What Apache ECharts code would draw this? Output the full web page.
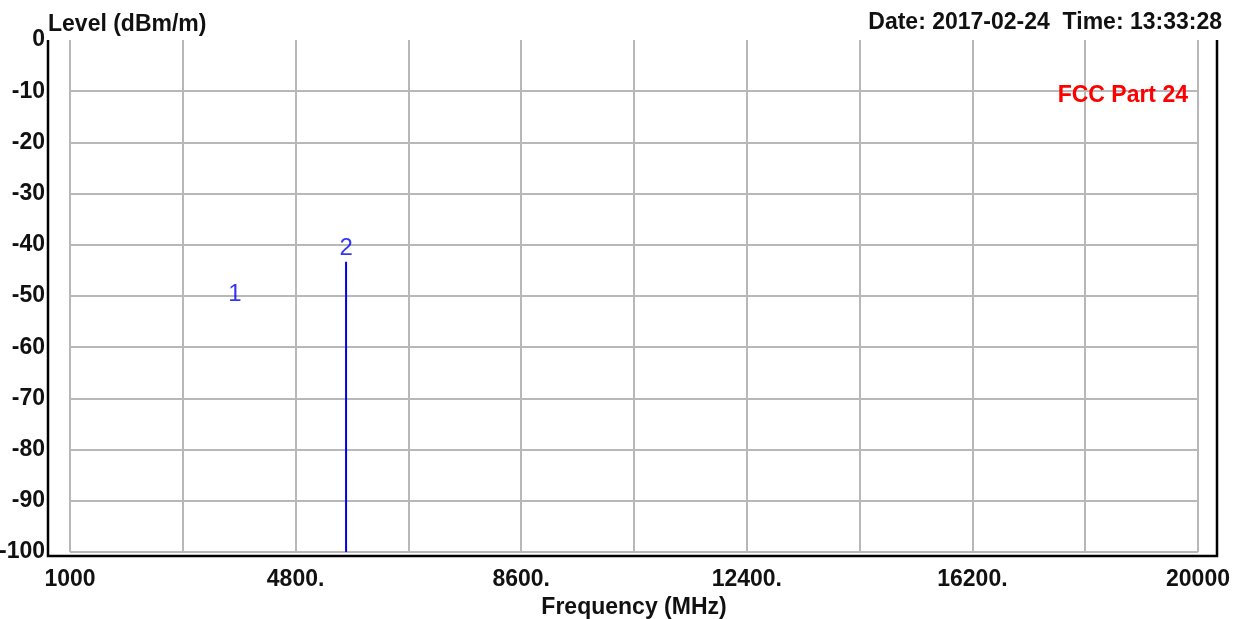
<!DOCTYPE html>
<html><head><meta charset="utf-8">
<script src="https://cdn.jsdelivr.net/npm/echarts@6/dist/echarts.min.js"></script>
<style>html,body{margin:0;padding:0;background:#fff}#c{width:1246px;height:619px}</style>
</head><body><div id="c"></div>
<script>
const xMin = 1000, xMax = 20000, xStep = 1900;
const yMin = -100, yMax = 0, yStep = 10;
const xTickLabels = ['1000', '4800.', '8600.', '12400.', '16200.', '20000'];
const yTickLabels = ['0', '-10', '-20', '-30', '-40', '-50', '-60', '-70', '-80', '-90', '-100'];
const traceFreq = [5650, 5650];
const traceLevel = [-100, -43.3];
const markerNames = ['1', '2'];
const markerFreq = [3780, 5650];
const markerLevel = [-52.4, -43.3];
const limitName = 'FCC Part 24';
const dateText = 'Date: 2017-02-24  Time: 13:33:28';

const FONT = '"Liberation Sans", Arial, sans-serif';
const chart = echarts.init(document.getElementById('c'), null, {renderer: 'canvas'});
chart.setOption({
  animation: false,
  backgroundColor: '#fff',
  grid: {left: 70, right: 48, top: 40, bottom: 67, containLabel: false, outerBoundsMode: 'none'},
  title: [
    {text: 'Level (dBm/m)', left: 43, top: 8,
     textStyle: {fontFamily: FONT, fontSize: 23, fontWeight: 'bold', color: '#111'}},
    {text: dateText, right: 19, top: 6,
     textStyle: {fontFamily: FONT, fontSize: 23, fontWeight: 'bold', color: '#111'}},
    {text: limitName, right: 53, top: 79,
     textStyle: {fontFamily: FONT, fontSize: 23, fontWeight: 'bold', color: '#ff0000'}}
  ],
  xAxis: {
    type: 'value', min: xMin, max: xMax, interval: xStep,
    name: 'Frequency (MHz)', nameLocation: 'middle', nameGap: 35,
    nameTextStyle: {fontFamily: FONT, fontSize: 23, fontWeight: 'bold', color: '#111'},
    axisLine: {show: false}, axisTick: {show: false},
    axisLabel: {margin: 16, fontFamily: FONT, fontSize: 23, fontWeight: 'bold', color: '#111',
      showMinLabel: true, showMaxLabel: true,
      formatter: v => { const i = Math.round((v - xMin) / xStep); return i % 2 === 0 ? xTickLabels[i / 2] : ''; }},
    splitLine: {show: true, showMinLine: true, showMaxLine: true, lineStyle: {color: '#b8b8b8', width: 2}}
  },
  yAxis: {
    type: 'value', min: yMin, max: yMax, interval: yStep,
    axisLine: {show: false}, axisTick: {show: false},
    axisLabel: {margin: 25, fontFamily: FONT, fontSize: 23, fontWeight: 'bold', color: '#111',
      showMinLabel: true, showMaxLabel: true,
      formatter: v => yTickLabels[Math.round((yMax - v) / yStep)]},
    splitLine: {show: true, showMinLine: true, showMaxLine: false, lineStyle: {color: '#b8b8b8', width: 2}}
  },
  graphic: [{
    type: 'polyline', silent: true, z: 10,
    shape: {points: [[48, 40], [48, 556], [1217, 556], [1217, 40]]},
    style: {stroke: '#000', lineWidth: 2.5, fill: null}
  }],
  series: [
    {type: 'line', data: traceFreq.map((f, i) => [f, traceLevel[i]]), symbol: 'none',
     lineStyle: {color: '#0000f0', width: 2}, z: 5},
    {type: 'scatter', data: markerFreq.map((f, i) => ({value: [f, markerLevel[i]], name: markerNames[i]})),
     symbolSize: 1, itemStyle: {color: 'rgba(0,0,0,0)'},
     label: {show: true, position: 'top', distance: 1, formatter: p => p.name,
       fontFamily: FONT, fontSize: 24, color: '#0000f0'}, z: 6}
  ]
});
</script></body></html>
